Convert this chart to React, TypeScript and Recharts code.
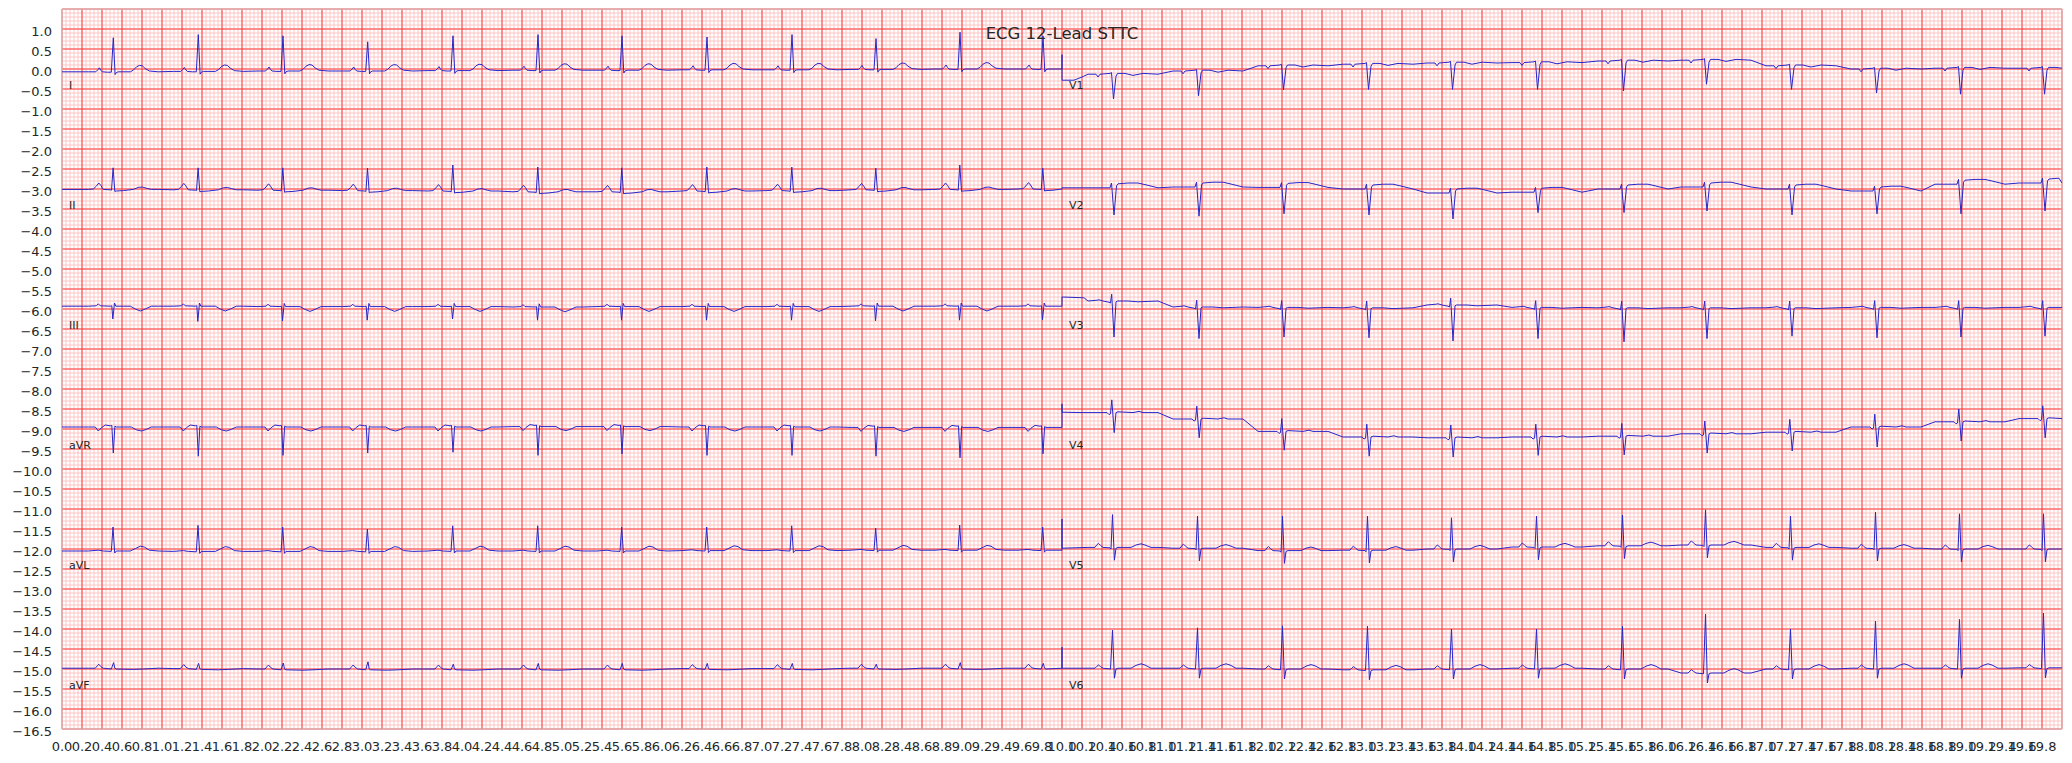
import { LineChart, Line, XAxis, YAxis, CartesianGrid, ReferenceArea, ReferenceDot } from 'recharts';

/* ── ECG 12-lead, limb leads on 0–10 s, chest leads shifted to 10–20 s ── */
type Knot = [number, number | null]; // [s from R peak, mV from baseline]; null = per-beat peak

const FONT = 'DejaVu Sans';
const INK = '#262626';

/* ── R-peak times (s) ── */
const limbBeats = [0.513, 1.363, 2.21, 3.057, 3.91, 4.76, 5.6, 6.45, 7.3, 8.14, 8.98, 9.81];
const chestBeats = [10.51, 11.36, 12.21, 13.06, 13.9, 14.75, 15.61, 16.44, 17.29, 18.14, 18.98, 19.82];

/* ── Lead I ── */
const iShape: Knot[] = [[-0.25, 0], [-0.175, 0], [-0.155, 0.05], [-0.14, 0.1], [-0.125, 0.04], [-0.11, 0], [-0.06, -0.01], [-0.02, -0.01], [0, null], [0.018, -0.07], [0.03, -0.02], [0.05, 0], [0.17, 0], [0.2, 0.04], [0.23, 0.12], [0.26, 0.16], [0.29, 0.15], [0.32, 0.08], [0.36, 0.02], [0.45, 0]];
const iBase = [-0.07, -0.06, -0.05, -0.05, -0.04, -0.03, -0.03, -0.02, -0.02, -0.01, 0, 0];
const iPeak = [0.78, 0.86, 0.83, 0.68, 0.83, 0.86, 0.83, 0.8, 0.86, 0.76, 0.92, 0.83];

/* ── Lead II ── */
const iiShape: Knot[] = [[-0.25, 0], [-0.2, 0.01], [-0.17, 0.08], [-0.145, 0.16], [-0.125, 0.1], [-0.1, 0], [-0.03, -0.01], [-0.018, -0.02], [-0.002, null], [0.015, -0.05], [0.03, -0.04], [0.1, -0.03], [0.2, 0], [0.25, 0.05], [0.29, 0.06], [0.33, 0.03], [0.38, 0], [0.45, 0]];
const iiBase = [-0.01, -0.02, -0.03, -0.04, -0.05, -0.07, -0.07, -0.05, -0.04, -0.02, -0.01, 0];
const iiPeak = [0.53, 0.53, 0.53, 0.52, 0.6, 0.55, 0.53, 0.55, 0.55, 0.52, 0.6, 0.52];

/* ── Lead III ── */
const iiiShape: Knot[] = [[-0.25, 0], [-0.17, 0.01], [-0.15, 0.06], [-0.13, 0.01], [-0.03, 0], [-0.015, 0.01], [-0.005, null], [0.012, 0.08], [0.025, 0], [0.17, 0], [0.22, -0.07], [0.27, -0.12], [0.32, -0.07], [0.38, 0], [0.45, 0]];
const iiiBase = [0.07, 0.07, 0.06, 0.06, 0.06, 0.05, 0.06, 0.06, 0.06, 0.07, 0.07, 0.07];
const iiiPeak = [-0.25, -0.31, -0.3, -0.28, -0.25, -0.28, -0.28, -0.28, -0.28, -0.3, -0.28, -0.27];

/* ── aVR ── */
const avrShape: Knot[] = [[-0.25, 0], [-0.18, 0], [-0.15, -0.1], [-0.12, -0.02], [-0.08, 0.05], [-0.03, 0.03], [-0.015, 0.04], [0, null], [0.016, 0.02], [0.03, 0], [0.18, 0], [0.23, -0.07], [0.28, -0.1], [0.33, -0.06], [0.38, 0], [0.45, 0]];
const avrBase = [0.05, 0.05, 0.05, 0.05, 0.05, 0.06, 0.06, 0.05, 0.05, 0.04, 0.04, 0.04];
const avrPeak = [-0.6, -0.68, -0.66, -0.6, -0.58, -0.66, -0.62, -0.66, -0.66, -0.68, -0.72, -0.62];

/* ── aVL ── */
const avlShape: Knot[] = [[-0.25, 0], [-0.15, 0.02], [-0.1, 0], [-0.02, -0.01], [-0.003, null], [0.014, -0.05], [0.03, 0], [0.17, 0], [0.22, 0.06], [0.27, 0.12], [0.31, 0.1], [0.36, 0.02], [0.45, 0]];
const avlBase = [-0.05, -0.06, -0.06, -0.06, -0.05, -0.05, -0.05, -0.04, -0.04, -0.03, -0.03, -0.03];
const avlPeak = [0.55, 0.59, 0.55, 0.5, 0.58, 0.58, 0.55, 0.55, 0.58, 0.52, 0.6, 0.55];

/* ── aVF ── */
const avfShape: Knot[] = [[-0.25, 0], [-0.18, 0], [-0.16, 0.06], [-0.145, 0.1], [-0.125, 0.04], [-0.1, 0], [-0.02, -0.02], [0.003, null], [0.015, 0], [0.03, -0.02], [0.2, -0.03], [0.3, -0.02], [0.45, 0]];
const avfBase = [0.02, 0.01, 0, 0, 0, 0, 0, 0.01, 0.01, 0.02, 0.02, 0.02];
const avfPeak = [0.16, 0.14, 0.15, 0.18, 0.12, 0.14, 0.14, 0.14, 0.14, 0.12, 0.16, 0.14];

/* ── V1 ── */
const v1Start: [number, number][] = [[10, 0.36], [10, -0.28], [10.12, -0.28], [10.2, -0.2]];
const v1Shape: Knot[] = [[-0.25, 0], [-0.17, 0], [-0.15, -0.07], [-0.13, 0], [-0.03, 0.02], [-0.015, 0.04], [0.005, null], [0.03, -0.05], [0.045, 0.02], [0.12, 0.02], [0.2, -0.03], [0.26, 0], [0.3, 0.02], [0.45, 0]];
const v1Base = [-0.13, -0.05, 0.08, 0.12, 0.15, 0.16, 0.2, 0.22, 0.08, 0, 0.02, 0.02];
const v1Peak = [-0.75, -0.67, -0.52, -0.51, -0.51, -0.51, -0.55, -0.38, -0.51, -0.6, -0.63, -0.63];

/* ── V2 ── */
const v2Start: [number, number][] = [[10, 0.03]];
const v2Shape: Knot[] = [[-0.25, 0], [-0.1, 0], [-0.03, 0], [-0.015, 0.12], [0.01, null], [0.035, 0.05], [0.05, 0.1], [0.15, 0.12], [0.25, 0.12], [0.32, 0.08], [0.45, 0]];
const v2Base = [0.03, 0.05, 0.04, 0, -0.1, -0.08, 0, 0.05, 0, -0.05, 0.12, 0.15];
const v2Peak = [-0.65, -0.68, -0.62, -0.65, -0.75, -0.59, -0.59, -0.55, -0.65, -0.62, -0.62, -0.55];

/* ── V3 ── */
const v3Start: [number, number][] = [[10, 0.3], [10.22, 0.28]];
const v3Shape: Knot[] = [[-0.25, 0], [-0.16, 0.02], [-0.14, 0.03], [-0.1, 0], [-0.04, -0.03], [-0.025, -0.05], [-0.013, 0.17], [0.01, null], [0.03, -0.02], [0.045, 0], [0.15, 0], [0.25, -0.02], [0.45, 0]];
const v3Base = [0.2, 0.05, 0.04, 0.03, 0.1, 0.04, 0.03, 0.03, 0.03, 0.04, 0.04, 0.04];
const v3Peak = [-0.7, -0.74, -0.7, -0.72, -0.8, -0.74, -0.82, -0.74, -0.68, -0.72, -0.7, -0.68];

/* ── V4 ── */
const v4Start: [number, number][] = [[10, 0.63], [10, 0.42], [10.2, 0.41]];
const v4Shape: Knot[] = [[-0.25, 0], [-0.06, 0], [-0.04, -0.05], [-0.025, -0.03], [-0.012, 0.32], [0.012, null], [0.03, 0], [0.05, 0.02], [0.2, 0], [0.26, 0.03], [0.3, 0], [0.45, 0]];
const v4Base = [0.41, 0.25, -0.06, -0.2, -0.22, -0.2, -0.18, -0.12, -0.08, 0.05, 0.18, 0.26];
const v4Peak = [-0.09, -0.22, -0.53, -0.68, -0.7, -0.66, -0.65, -0.6, -0.55, -0.45, -0.3, -0.22];

/* ── V5 ── */
const v5Start: [number, number][] = [[10, 0.75], [10, 0.02]];
const v5Shape: Knot[] = [[-0.25, 0], [-0.18, 0], [-0.16, 0.07], [-0.145, 0.1], [-0.125, 0.05], [-0.1, 0], [-0.03, -0.01], [-0.02, -0.04], [-0.005, null], [0.014, -0.32], [0.03, -0.02], [0.05, 0], [0.18, 0], [0.23, 0.06], [0.28, 0.09], [0.32, 0.06], [0.38, 0], [0.45, 0]];
const v5Base = [0.04, 0.02, -0.04, -0.03, 0, 0.05, 0.08, 0.1, 0.04, 0.02, 0, 0];
const v5Peak = [0.86, 0.82, 0.82, 0.82, 0.78, 0.82, 0.85, 0.98, 0.82, 0.92, 0.88, 0.88];

/* ── V6 ── */
const v6Start: [number, number][] = [[10, 0.55], [10, 0.02]];
const v6Shape: Knot[] = [[-0.25, 0], [-0.18, 0], [-0.16, 0.05], [-0.145, 0.08], [-0.125, 0.04], [-0.1, 0], [-0.025, -0.02], [-0.005, null], [0.014, -0.25], [0.03, -0.02], [0.05, 0], [0.18, 0], [0.23, 0.07], [0.28, 0.11], [0.32, 0.08], [0.38, 0], [0.45, 0]];
const v6Base = [0.02, 0.02, 0, -0.02, 0, 0.02, 0, -0.1, 0, 0.02, 0.02, 0.03];
const v6Peak = [0.97, 1.03, 1.08, 1.07, 1.0, 1.0, 1.07, 1.37, 1.0, 1.2, 1.24, 1.4];

/* ── row layout ── */
const rowOffsets = [0, -3, -6, -9, -12, -15];
const limbNames = ['I', 'II', 'III', 'aVR', 'aVL', 'aVF'];
const chestNames = ['V1', 'V2', 'V3', 'V4', 'V5', 'V6'];

/* ── axes ── */
const xTicks = Array.from({ length: 100 }, (_, i) => +(i * 0.2).toFixed(1));
const yTicks = Array.from({ length: 36 }, (_, i) => +(-16.5 + i * 0.5).toFixed(1));
const minorX = Array.from({ length: 501 }, (_, i) => +(i * 0.04).toFixed(2));
const majorX = Array.from({ length: 101 }, (_, i) => +(i * 0.2).toFixed(1));
const minorY = Array.from({ length: 181 }, (_, i) => +(-16.5 + i * 0.1).toFixed(1));
const majorY = Array.from({ length: 37 }, (_, i) => +(-16.5 + i * 0.5).toFixed(1));

type Pt = { t: number; v: number };

function buildLead(
  beats: number[], shape: Knot[], base: number[], peak: number[],
  offset: number, start: [number, number][], to: number,
): Pt[] {
  const pts: Pt[] = start.map(([t, v]) => ({ t, v: offset + v }));
  const from = start[start.length - 1][0];
  beats.forEach((r, i) => {
    shape.forEach(([dt, dv]) => {
      const t = +(r + dt).toFixed(3);
      if (t <= from || t >= to) return;
      pts.push({ t, v: offset + (dv === null ? peak[i] : base[i] + dv) });
    });
  });
  pts.push({ t: to, v: offset + base[base.length - 1] });
  return pts;
}

const limbLeads = [
  [iShape, iBase, iPeak], [iiShape, iiBase, iiPeak], [iiiShape, iiiBase, iiiPeak],
  [avrShape, avrBase, avrPeak], [avlShape, avlBase, avlPeak], [avfShape, avfBase, avfPeak],
] as [Knot[], number[], number[]][];
const chestLeads = [
  [v1Shape, v1Base, v1Peak, v1Start], [v2Shape, v2Base, v2Peak, v2Start], [v3Shape, v3Base, v3Peak, v3Start],
  [v4Shape, v4Base, v4Peak, v4Start], [v5Shape, v5Base, v5Peak, v5Start], [v6Shape, v6Base, v6Peak, v6Start],
] as [Knot[], number[], number[], [number, number][]][];

const rows = rowOffsets.map((off, k) => {
  const [ls, lb, lp] = limbLeads[k];
  const [cs, cb, cp, cst] = chestLeads[k];
  return [
    ...buildLead(limbBeats, ls, lb, lp, off, [[0, lb[0]]], 10),
    ...buildLead(chestBeats, cs, cb, cp, off, cst, 20),
  ];
});

const fmt = (v: number) => (v < 0 ? '\u2212' : '') + Math.abs(v).toFixed(1);

const XTick = ({ x, y, payload }: any) => (
  <text x={x} y={y} dy={22} textAnchor="middle" fontSize={13} fontFamily={FONT} fill={INK}>
    {fmt(payload.value)}
  </text>
);
const YTick = ({ x, y, payload }: any) => (
  <text x={x} y={y} dy={6.5} textAnchor="end" fontSize={13} fontFamily={FONT} fill={INK}>
    {fmt(payload.value)}
  </text>
);

const label = (txt: string, size: number, anchor: 'start' | 'middle') => (p: any) => (
  <text x={p.cx} y={p.cy} fontSize={size} textAnchor={anchor} fontFamily={FONT} fill={INK}>{txt}</text>
);

export default function App() {
  return (
    <div style={{ position: 'absolute', left: 0, top: 0, width: 2072, height: 763, background: '#fff' }}>
      <LineChart width={2072} height={763} margin={{ top: 9, right: 10, left: 0, bottom: 0 }}>
        <XAxis type="number" dataKey="t" domain={[0, 20]} ticks={xTicks} interval={0}
          height={34} axisLine={false} tickLine={false} tickSize={0} tickMargin={0} tick={<XTick />}
          allowDataOverflow />
        <YAxis type="number" domain={[-16.5, 1.5]} ticks={yTicks} interval={0}
          width={62} axisLine={false} tickLine={false} tickSize={0} tickMargin={10} tick={<YTick />}
          allowDataOverflow />
        <CartesianGrid verticalValues={minorX} horizontalValues={minorY} stroke="#ffbaba" strokeWidth={0.8} fill="#fff" />
        <CartesianGrid verticalValues={majorX} horizontalValues={majorY} stroke="#ff3b3b" strokeWidth={1} />
        <ReferenceArea x1={0} x2={20} y1={-16.5} y2={1.5} fill="none" stroke="#cccccc" strokeWidth={1} fillOpacity={0} />
        {rows.map((pts, k) => (
          <Line key={k} data={pts} dataKey="v" type="linear" stroke="#2626c9" strokeWidth={1}
            dot={false} activeDot={false} isAnimationActive={false} />
        ))}
        {rowOffsets.map((off, k) => (
          <ReferenceDot key={`l${k}`} x={0.07} y={off - 0.5} r={0} shape={label(limbNames[k], 11, 'start')} />
        ))}
        {rowOffsets.map((off, k) => (
          <ReferenceDot key={`c${k}`} x={10.07} y={off - 0.5} r={0} shape={label(chestNames[k], 11, 'start')} />
        ))}
        <ReferenceDot x={10} y={0.7625} r={0} shape={label('ECG 12-Lead STTC', 16.5, 'middle')} />
      </LineChart>
    </div>
  );
}
